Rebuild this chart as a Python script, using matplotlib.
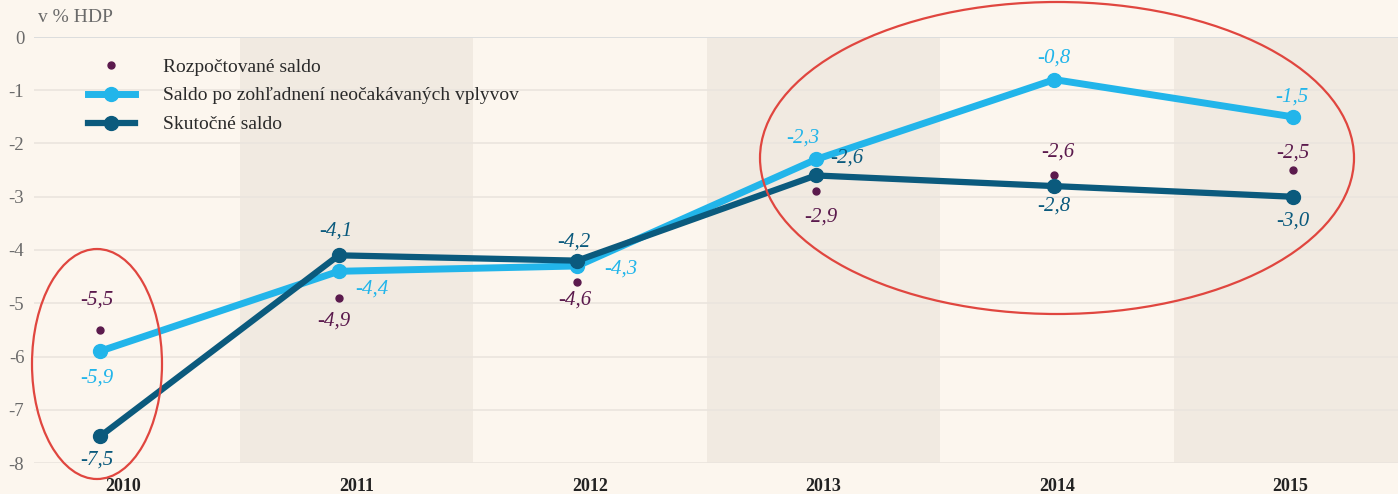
import matplotlib
matplotlib.use("Agg")
import matplotlib.pyplot as plt
from matplotlib.patches import Ellipse
from matplotlib.lines import Line2D

plt.rcParams['font.family'] = ['Liberation Serif', 'DejaVu Serif']
plt.rcParams['axes.unicode_minus'] = False

years = ["2010", "2011", "2012", "2013", "2014", "2015"]
rozpoctovane = [-5.5, -4.9, -4.6, -2.9, -2.6, -2.5]
saldo_po = [-5.9, -4.4, -4.3, -2.3, -0.8, -1.5]
skutocne = [-7.5, -4.1, -4.2, -2.6, -2.8, -3.0]
yticks = [0, -1, -2, -3, -4, -5, -6, -7, -8]

# label offsets (pixels) for data labels
off_roz = [(-3, 30), (-5, -23), (-2, -18), (5, -26), (3, 23), (0, 17)]
off_sal = [(-3, -27), (33, -18), (44, -3), (-13, 21), (-1, 22), (-1, 20)]
off_sku = [(-3, -24), (-3, 24), (-3, 19), (31, 17), (-1, -20), (0, -24)]

BG = "#FCF6EE"
BAND = "#F1EAE1"
GRID = "#EAE5DE"
C_ROZ = "#5B1A4D"
C_SAL = "#22B5EA"
C_SKU = "#0B5A7D"
RED = "#E0463F"

W, H = 1398, 494
fig = plt.figure(figsize=(W / 100, H / 100), dpi=100, facecolor=BG)
ax = fig.add_axes([34 / W, (H - 463) / H, (W - 34) / W, 426 / H])
ax.set_facecolor(BG)
n = len(years)
ax.set_xlim(-0.381, 5.46)
ax.set_ylim(-8, 0)

for i in range(n):
    if i % 2 == 1:
        ax.axvspan(i - 0.5, i + 0.5, color=BAND, zorder=0, lw=0)

ax.set_yticks(yticks)
ax.set_yticklabels([str(v) for v in yticks])
ax.yaxis.grid(True, color=GRID, lw=1.2, zorder=1)
ax.axhline(0, color="#DCDDDD", lw=1.4, zorder=1)
ax.set_axisbelow(True)
ax.tick_params(axis='y', length=0, pad=7, labelsize=13.5, labelcolor="#6A6A6A")
ax.set_xticks(range(n))
ax.set_xticklabels(years, fontweight='bold', fontsize=13, color="#222222")
ax.tick_params(axis='x', length=0, pad=11)
for s in ax.spines.values():
    s.set_visible(False)

ax2 = ax.twiny()
ax2.set_xlim(-0.277, 5.44)
ax2.set_ylim(-8, 0)
ax2.set_xticks([])
for s in ax2.spines.values():
    s.set_visible(False)

x = list(range(n))
ax2.plot(x, rozpoctovane, 'o', color=C_ROZ, ms=5, zorder=3, lw=0)
ax2.plot(x, saldo_po, '-o', color=C_SAL, lw=5, ms=10, zorder=4, solid_joinstyle='round')
ax2.plot(x, skutocne, '-o', color=C_SKU, lw=4.5, ms=10, zorder=5, solid_joinstyle='round')

def fmt(v):
    return f"{v:.1f}".replace(".", ",")

for vals, offs, col in [(rozpoctovane, off_roz, C_ROZ), (saldo_po, off_sal, C_SAL), (skutocne, off_sku, C_SKU)]:
    for i, (v, o) in enumerate(zip(vals, offs)):
        ax2.annotate(fmt(v), (i, v), xytext=o, textcoords='offset pixels',
                     ha='center', va='center', fontsize=15, style='italic', color=col, zorder=6)

fig.text(38 / W, 1 - 18 / H, "v % HDP", fontsize=14, color="#6A6A6A", ha='left', va='center')

handles = [
    Line2D([], [], ls='none', marker='o', color=C_ROZ, ms=5),
    Line2D([], [], ls='-', lw=5, marker='o', color=C_SAL, ms=10),
    Line2D([], [], ls='-', lw=4.5, marker='o', color=C_SKU, ms=10),
]
labels = ["Rozpočtované saldo", "Saldo po zohľadnení neočakávaných vplyvov", "Skutočné saldo"]
leg = ax.legend(handles, labels, loc='upper left', bbox_to_anchor=((88 - 34) / (W - 34), (463 - 58) / 426),
                frameon=False, fontsize=14, handlelength=2.4, handletextpad=1.45,
                labelspacing=0.58, borderpad=0, borderaxespad=0)
for t in leg.get_texts():
    t.set_color("#2A2A2A")

e1 = Ellipse((97 / W, 1 - 364 / H), 130 / W, 230 / H, transform=fig.transFigure,
             fill=False, ec=RED, lw=1.6, zorder=10)
e2 = Ellipse((1057 / W, 1 - 158 / H), 594 / W, 312 / H, transform=fig.transFigure,
             fill=False, ec=RED, lw=1.6, zorder=10)
fig.add_artist(e1)
fig.add_artist(e2)

fig.savefig("out.png", dpi=100, facecolor=BG)
